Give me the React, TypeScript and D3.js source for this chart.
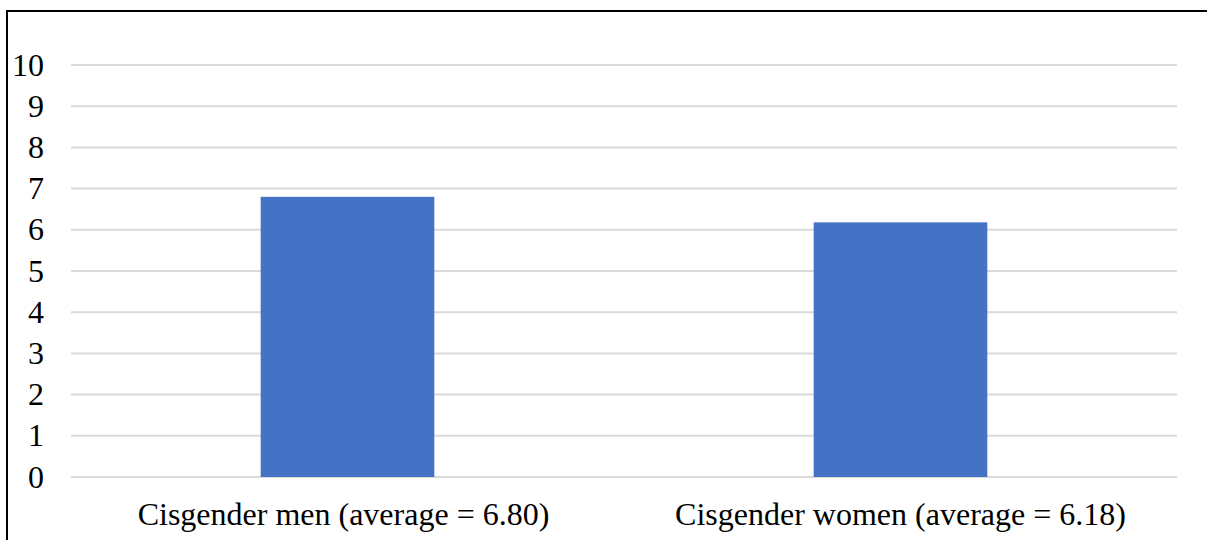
import React from "react";
import * as d3 from "d3";

const categories = ["Cisgender men (average = 6.80)", "Cisgender women (average = 6.18)"];
const values = [6.8, 6.18];
const yTicks = [0, 1, 2, 3, 4, 5, 6, 7, 8, 9, 10];

const W = 1207;
const H = 540;
const left = 71;
const right = 1177;
const top = 65;
const bottom = 477;
const FONT = "Liberation Serif, Times New Roman, DejaVu Serif, serif";

export default function App() {
  const x = d3.scaleBand<string>().domain(categories).range([left, right]).paddingInner(0).paddingOuter(0);
  const y = d3.scaleLinear().domain([0, 10]).range([bottom, top]);
  const barW = x.bandwidth() * 0.314;
  const textStyle = { fontFamily: FONT, fontSize: "32px" };
  return (
    <svg width={W} height={H} style={{ position: "absolute", left: 0, top: 0, background: "#fff" }}>
      <rect x={0} y={0} width={W} height={H} fill="#fff" />
      <line x1={7} y1={10} x2={7} y2={H + 2} stroke="#000" strokeWidth={2} />
      <line x1={6} y1={11} x2={W + 2} y2={11} stroke="#000" strokeWidth={2} />
      {yTicks.map((t) => (
        <g key={t}>
          <line x1={left} x2={right} y1={y(t)} y2={y(t)} stroke="#d9d9d9" strokeWidth={2} />
          <text x={44} y={y(t) + 10.5} textAnchor="end" style={textStyle} fill="#000">
            {t}
          </text>
        </g>
      ))}
      {categories.map((c, i) => (
        <g key={c}>
          <rect
            x={(x(c) as number) + x.bandwidth() / 2 - barW / 2}
            y={y(values[i])}
            width={barW}
            height={y(0) - y(values[i])}
            fill="#4472c4"
          />
          <text
            x={(x(c) as number) + x.bandwidth() / 2 - (i === 0 ? 4 : 0)}
            y={525}
            textAnchor="middle"
            style={textStyle}
            fill="#000"
          >
            {c}
          </text>
        </g>
      ))}
    </svg>
  );
}
